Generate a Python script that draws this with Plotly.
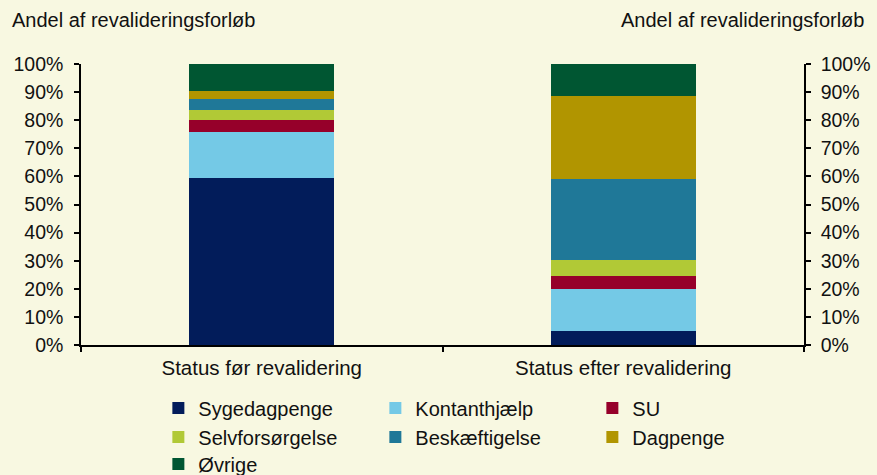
import plotly.graph_objects as go

# Data (andel i procent)
kategorier = ['Status før revalidering', 'Status efter revalidering']
sygedagpenge = [59.6, 5.0]
kontanthjaelp = [16.3, 14.9]
su = [4.2, 4.5]
selvforsorgelse = [3.6, 5.9]
beskaeftigelse = [4.0, 28.8]
dagpenge = [2.8, 29.5]
ovrige = [9.5, 11.4]
procent_ticks = list(range(0, 101, 10))

serier = [
    ('Sygedagpenge', sygedagpenge, '#021C5A', 'legend'),
    ('Kontanthjælp', kontanthjaelp, '#74C9E6', 'legend'),
    ('SU', su, '#96002A', 'legend'),
    ('Selvforsørgelse', selvforsorgelse, '#B1C936', 'legend2'),
    ('Beskæftigelse', beskaeftigelse, '#1F7898', 'legend2'),
    ('Dagpenge', dagpenge, '#B19500', 'legend2'),
    ('Øvrige', ovrige, '#005632', 'legend3'),
]

bg = '#F8F8E1'
font = 'Liberation Sans, Arial, sans-serif'
tekst = '#111111'

fig = go.Figure()
for navn, vaerdier, farve, leg in serier:
    fig.add_trace(go.Bar(x=kategorier, y=vaerdier, name=navn,
                         marker=dict(color=farve, line=dict(width=0)),
                         legend=leg, width=0.4))

# Tom trace så højre akse bliver tegnet
fig.add_trace(go.Scatter(x=[], y=[], yaxis='y2', showlegend=False, hoverinfo='skip'))

akse = dict(range=[0, 100], tickvals=procent_ticks,
            ticktext=[f'{v}%' for v in procent_ticks],
            ticks='outside', ticklen=5, tickcolor='black', tickwidth=1.5,
            showline=True, linecolor='black', linewidth=1.5,
            showgrid=False, zeroline=False,
            tickfont=dict(size=19.5, color=tekst))

leg_faelles = dict(orientation='h', x=0.107, xanchor='left', yanchor='middle',
                   traceorder='normal',
                   entrywidth=172, entrywidthmode='pixels',
                   font=dict(size=20, color=tekst, family=font),
                   bgcolor='rgba(0,0,0,0)', itemclick=False)

fig.update_layout(
    barmode='stack',
    width=877, height=475,
    margin=dict(l=81, r=73, t=64, b=130, autoexpand=False),
    paper_bgcolor=bg, plot_bgcolor=bg,
    font=dict(family=font, size=20, color=tekst),
    xaxis=dict(showline=True, linecolor='black', linewidth=1.5,
               ticks='outside', tickson='boundaries', ticklen=5,
               tickcolor='black', tickwidth=1.5, showgrid=False,
               ticklabelstandoff=4,
               tickfont=dict(size=20.5, color=tekst)),
    yaxis=dict(**akse, side='left', ticklabelstandoff=7),
    yaxis2=dict(**akse, side='right', overlaying='y', anchor='x', ticklabelstandoff=6),
    legend=dict(**leg_faelles, y=-0.2245),
    legend2=dict(**leg_faelles, y=-0.3275),
    legend3=dict(**leg_faelles, y=-0.4235),
    annotations=[
        dict(text='Andel af revalideringsforløb', xref='paper', yref='paper',
             x=-0.098, y=1.0, yshift=44, xanchor='left', yanchor='middle',
             showarrow=False, font=dict(size=20, color=tekst)),
        dict(text='Andel af revalideringsforløb', xref='paper', yref='paper',
             x=1.0857, y=1.0, yshift=44, xanchor='right', yanchor='middle',
             showarrow=False, font=dict(size=20, color=tekst)),
    ],
)

fig.write_html('out.html', config={'displayModeBar': False},
               post_script="document.body.style.margin='0';")
